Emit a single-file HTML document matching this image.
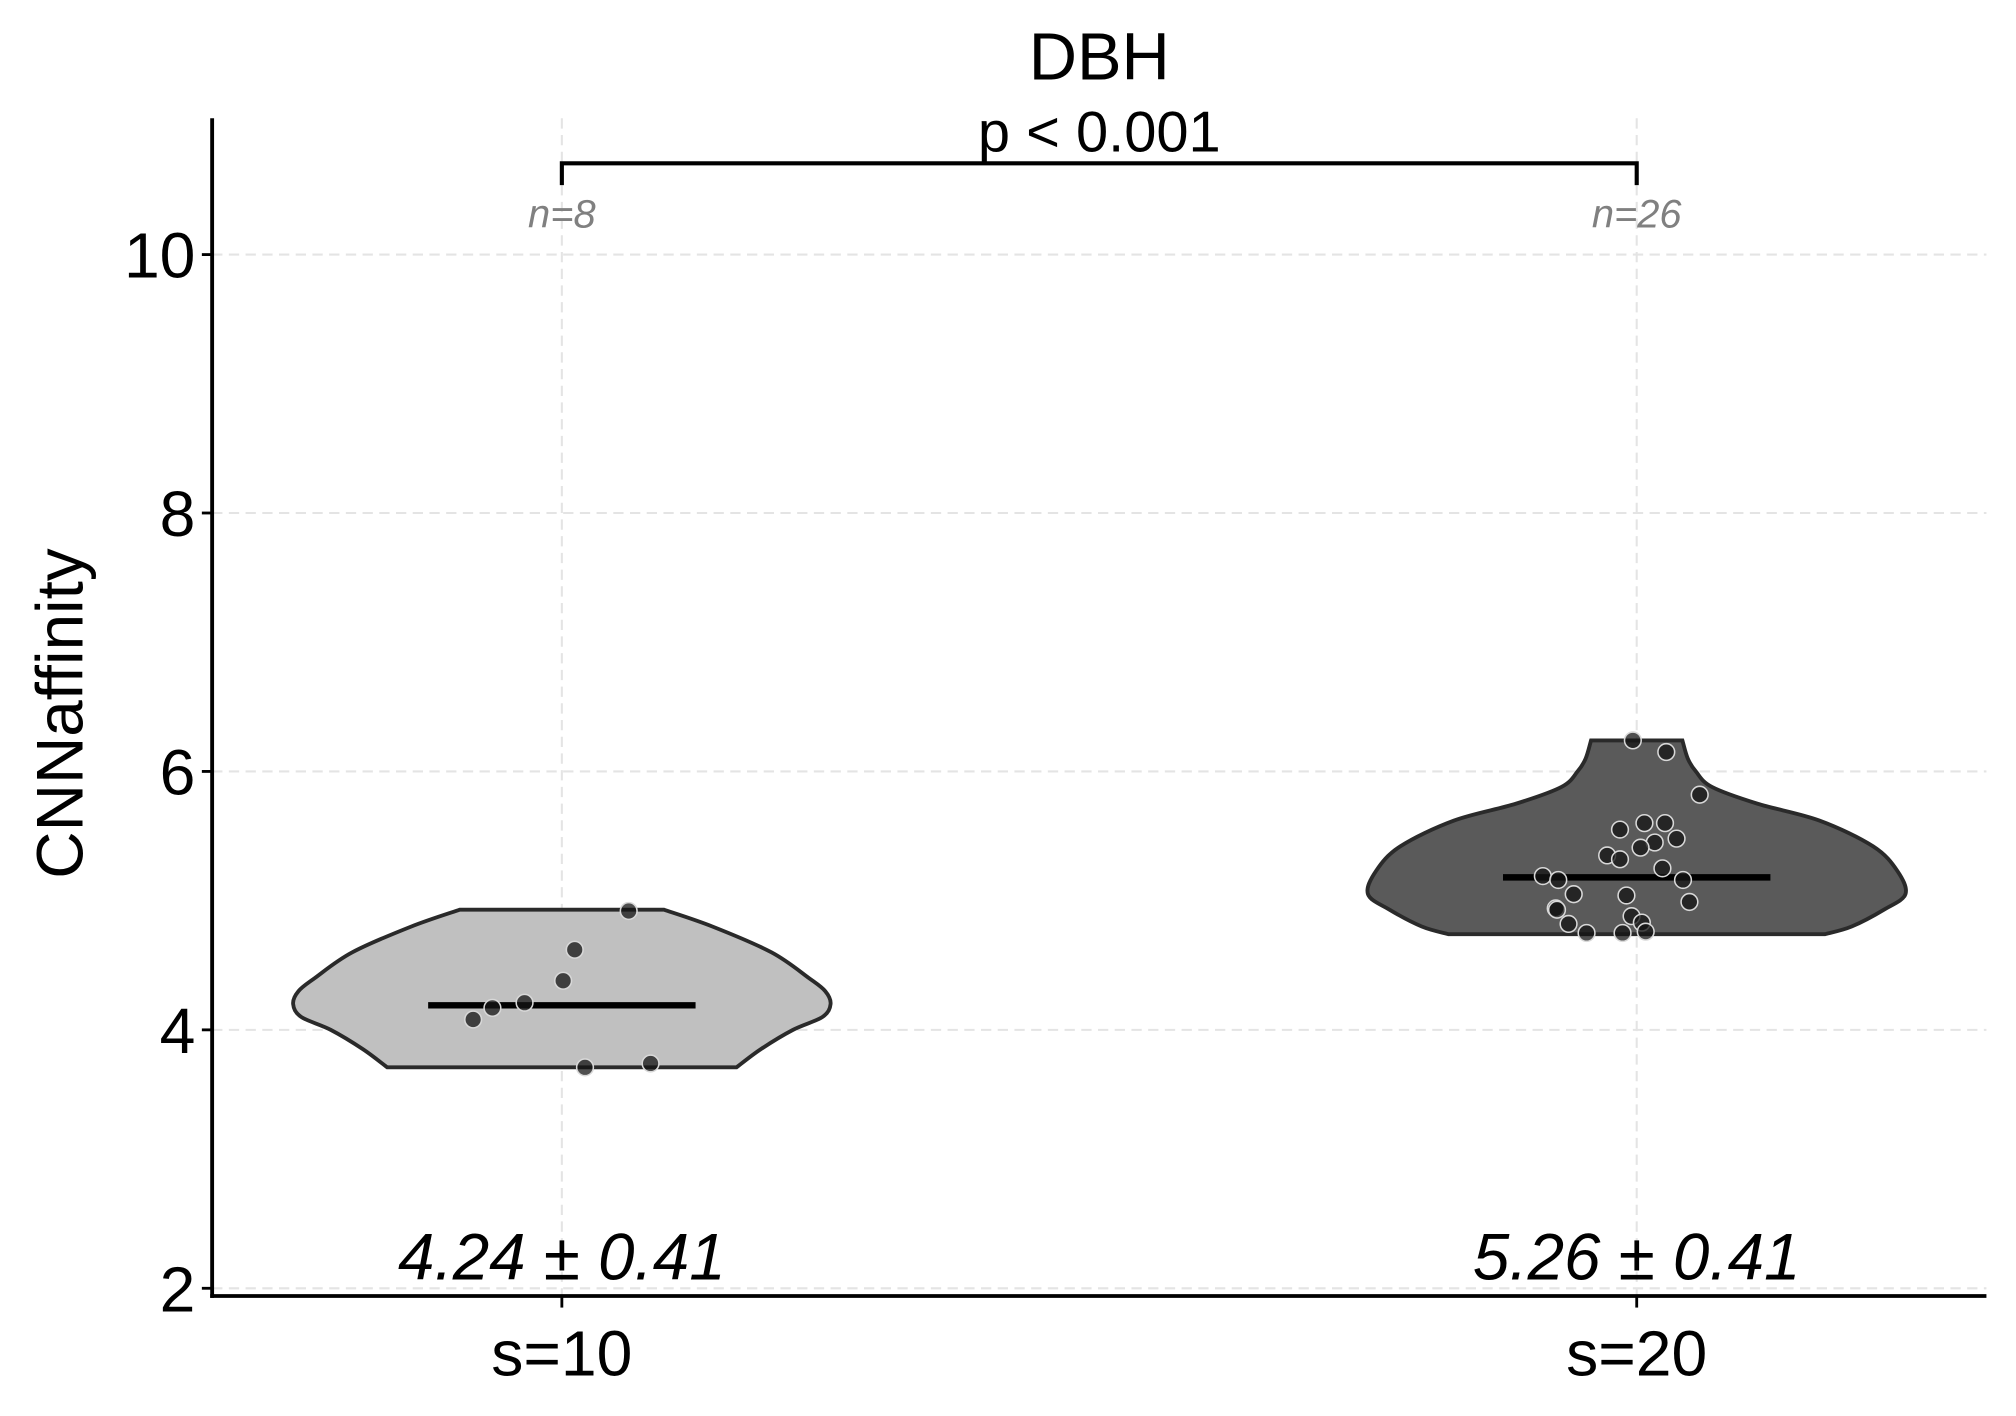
<!DOCTYPE html>
<html><head><meta charset="utf-8">
<style>
html,body{margin:0;padding:0;background:#fff;}
svg{display:block;font-family:"Liberation Sans",Arial,sans-serif;}
</style></head>
<body>
<svg id="chart" width="2016" height="1416" viewBox="0 0 1568 1101.33" xmlns="http://www.w3.org/2000/svg">
<rect width="1568" height="1101.33" fill="#fff"/>
<g id="grid"></g>
<g id="marks"></g>
<g id="axes"></g>
</svg>
<script>
const categories = ["s=10", "s=20"];
const yTicks = [2, 4, 6, 8, 10];
const medians = [4.19, 5.18];
const meanLabels = ["4.24 ± 0.41", "5.26 ± 0.41"];
const nLabels = ["n=8", "n=26"];
const pLabel = "p < 0.001";
const colors = ["#c0c0c0", "#5a5a5a"];
// violin profiles: value levels and relative density (half-width fraction)
const violin1Levels = [4.93, 4.8, 4.6, 4.4, 4.3, 4.2, 4.1, 4.0, 3.85, 3.71];
const violin1Density = [0.38, 0.56, 0.78, 0.92, 0.98, 1.0, 0.97, 0.86, 0.74, 0.65];
const violin2Levels = [6.24, 6.1, 6.0, 5.88, 5.75, 5.62, 5.42, 5.23, 5.05, 4.93, 4.8, 4.74];
const violin2Density = [0.17, 0.19, 0.22, 0.28, 0.45, 0.68, 0.88, 0.97, 1.0, 0.92, 0.8, 0.70];
const points1 = [4.08, 4.17, 4.21, 4.38, 4.62, 4.92, 3.71, 3.74];
const jitter1 = [-69, -54, -29, 1, 10, 52, 18, 69];
const points2 = [6.24, 6.15, 5.82, 5.55, 5.60, 5.60, 5.48, 5.45, 5.41, 5.35, 5.32, 5.25, 5.19, 5.16, 5.16, 5.05, 5.04, 4.99, 4.94, 4.93, 4.82, 4.88, 4.83, 4.75, 4.75, 4.76];
const jitter2 = [-3, 23, 49, -13, 6, 22, 31, 14, 3, -23, -13, 20, -73, -61, 36, -49, -8, 41, -63, -62, -53, -4, 4, -39, -11, 7];

const NS = "http://www.w3.org/2000/svg";
const L = 165, R = 1545, B = 1008, T = 92;
const yScale = v => 1002 - (v - 2) * 100.5;
const xScale = i => 437 + i * 836;
const maxHW = 209;
function mk(tag, attrs, parent, text) {
  const e = document.createElementNS(NS, tag);
  for (const k in attrs) e.setAttribute(k, attrs[k]);
  if (text !== undefined) e.textContent = text;
  parent.appendChild(e);
  return e;
}
const grid = document.getElementById('grid');
const marks = document.getElementById('marks');
const axes = document.getElementById('axes');

yTicks.forEach(t => {
  const g = mk('line', {x1: L, x2: R, y1: yScale(t), y2: yScale(t), stroke: '#e4e4e4', 'stroke-width': 1.6, 'stroke-dasharray': '8,5'}, grid);
  
  
});
categories.forEach((c, i) => {
  const g = mk('line', {x1: xScale(i), x2: xScale(i), y1: T, y2: B, stroke: '#e4e4e4', 'stroke-width': 1.6, 'stroke-dasharray': '8,5'}, grid);
  
  
});

function violinPath(cx, levels, dens) {
  const right = levels.map((v, k) => [cx + dens[k] * maxHW, yScale(v)]);
  const left = levels.map((v, k) => [cx - dens[k] * maxHW, yScale(v)]).reverse();
  function side(p) {
    let d = '';
    for (let i = 0; i < p.length - 1; i++) {
      const p0 = p[Math.max(i - 1, 0)], p1 = p[i], p2 = p[i + 1], p3 = p[Math.min(i + 2, p.length - 1)];
      const c1 = [p1[0] + (p2[0] - p0[0]) / 6, p1[1] + (p2[1] - p0[1]) / 6];
      const c2 = [p2[0] - (p3[0] - p1[0]) / 6, p2[1] - (p3[1] - p1[1]) / 6];
      d += ` C${c1[0]},${c1[1]} ${c2[0]},${c2[1]} ${p2[0]},${p2[1]}`;
    }
    return d;
  }
  return `M${right[0][0]},${right[0][1]}` + side(right) + ` L${left[0][0]},${left[0][1]}` + side(left) + ' Z';
}
const vData = [[violin1Levels, violin1Density, points1, jitter1], [violin2Levels, violin2Density, points2, jitter2]];
vData.forEach((vd, i) => {
  const cx = xScale(i);
  const p = mk('path', {d: violinPath(cx, vd[0], vd[1]), fill: colors[i], stroke: '#2a2a2a', 'stroke-width': 3}, marks);
  
  
  const m = mk('line', {x1: cx - 104, x2: cx + 104, y1: yScale(medians[i]), y2: yScale(medians[i]), stroke: '#000', 'stroke-width': 5}, marks);
  
  
  vd[2].forEach((v, k) => {
    const c = mk('circle', {cx: cx + vd[3][k], cy: yScale(v), r: 6.5, fill: 'rgba(20,20,20,0.75)', stroke: '#d8d8d8', 'stroke-width': 1.2}, marks);
    
    
  });
  const t = mk('text', {x: cx, y: 995, 'text-anchor': 'middle', 'font-size': 51, 'font-style': 'italic', fill: '#000'}, marks, meanLabels[i]);
  
  
  const n = mk('text', {x: cx, y: 177, 'text-anchor': 'middle', 'font-size': 31, 'font-style': 'italic', fill: '#808080'}, marks, nLabels[i]);
  
  
});

const br = mk('path', {d: `M${xScale(0)},144 V127 H${xScale(1)} V144`, fill: 'none', stroke: '#000', 'stroke-width': 3.2}, axes);


const pt = mk('text', {x: 855, y: 118, 'text-anchor': 'middle', 'font-size': 45, fill: '#000'}, axes, pLabel);


const title = mk('text', {x: 855, y: 62, 'text-anchor': 'middle', 'font-size': 52, fill: '#000'}, axes, 'DBH');



const ya = mk('line', {x1: L, x2: L, y1: T, y2: B + 1.5, stroke: '#000', 'stroke-width': 3}, axes);


const xa = mk('line', {x1: L - 1.5, x2: R, y1: B, y2: B, stroke: '#000', 'stroke-width': 3}, axes);


yTicks.forEach(t => {
  const tk = mk('line', {x1: L - 8, x2: L, y1: yScale(t), y2: yScale(t), stroke: '#000', 'stroke-width': 2.2}, axes);
  
  
  const lb = mk('text', {x: L - 13, y: yScale(t) + 18, 'text-anchor': 'end', 'font-size': 50, fill: '#000'}, axes, String(t));
  
  
});
categories.forEach((c, i) => {
  const tk = mk('line', {x1: xScale(i), x2: xScale(i), y1: B, y2: B + 9, stroke: '#000', 'stroke-width': 2.2}, axes);
  
  
  const lb = mk('text', {x: xScale(i), y: 1070, 'text-anchor': 'middle', 'font-size': 50, fill: '#000'}, axes, c);
  
  
});
const yt = mk('text', {x: 0, y: 0, transform: 'translate(64,555) rotate(-90)', 'text-anchor': 'middle', 'font-size': 51, fill: '#000'}, axes, 'CNNaffinity');


</script>
</body></html>
